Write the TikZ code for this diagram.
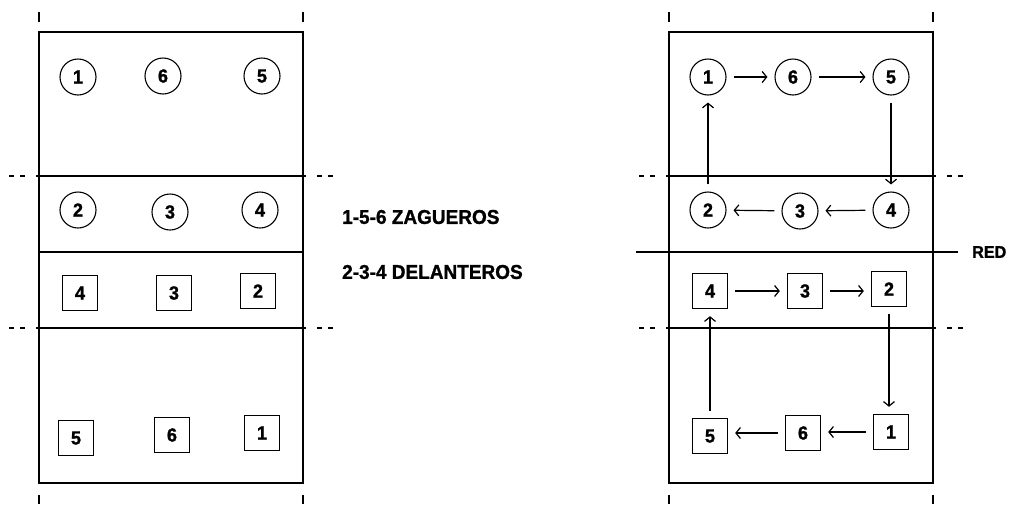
\documentclass[tikz,border=0pt]{standalone}
\usepackage{fontspec}
\usetikzlibrary{arrows.meta}
\newfontfamily\lblfont[FakeStretch=0.95, BoldFeatures={FakeBold=1.2}]{Liberation Sans}
\begin{document}
\begin{tikzpicture}[x=1pt,y=-1pt,
  court/.style={line width=1.5pt},
  ext/.style={line width=1.5pt, dash pattern=on 5pt off 6pt},
  numfont/.style={font=\lblfont\bfseries\fontsize{19}{19}\selectfont},
  player/.style={circle, draw, line width=1.1pt, minimum size=36pt, inner sep=0pt, numfont},
  sq/.style={rectangle, draw, line width=1.3pt, minimum size=35pt, inner sep=0pt, numfont},
  rot/.style={line width=1.2pt, -{Straight Barb[length=4.5pt,width=11pt]}, shorten <=7pt, shorten >=7pt},
  lbl/.style={anchor=west, inner sep=0pt, font=\lblfont\bfseries\fontsize{20}{20}\selectfont}
]
\useasboundingbox (0,0) rectangle (1011,504);

% the two courts: outline, side ticks, attack lines with dashed extensions
\foreach \ox in {0,630} {
  \begin{scope}[xshift=\ox pt]
    \draw[court] (39,32) rectangle (303,483);
    \draw[court] (39,12) -- (39,22) (303,12) -- (303,22);
    \draw[court] (39,495) -- (39,504) (303,495) -- (303,504);
    \foreach \yy in {176,328} {
      \draw[court] (36,\yy) -- (306,\yy);
      \draw[ext] (9,\yy) -- (26,\yy);
      \draw[ext] (317,\yy) -- (334,\yy);
    }
  \end{scope}
}
% net of the first court
\draw[court] (39,252) -- (303,252);

% first court: players in position
\node[player] (a1) at (78,77) {1};
\node[player] (a6) at (163,76) {6};
\node[player] (a5) at (262,76) {5};
\node[player] (a2) at (78,210) {2};
\node[player] (a3) at (170,212) {3};
\node[player] (a4) at (260,210) {4};
\node[sq] (b4) at (80,293) {4};
\node[sq] (b3) at (174,293) {3};
\node[sq] (b2) at (258,291) {2};
\node[sq] (b5) at (76,438) {5};
\node[sq] (b6) at (172,435) {6};
\node[sq] (b1) at (262,433) {1};

\node[lbl] (zag) at (342,217) {1-5-6 ZAGUEROS};
\node[lbl] (del) at (342,272) {2-3-4 DELANTEROS};

% second court: net and rotation
\coordinate (netL) at (636,252);
\coordinate (netR) at (958,252);
\draw[court] (netL) -- (netR);
\node[lbl, font=\lblfont\bfseries\fontsize{17}{17}\selectfont] (red) at (972,252) {RED};

\node[player] (c1) at (708,77) {1};
\node[player] (c6) at (793,77) {6};
\node[player] (c5) at (891,77) {5};
\node[player] (c2) at (708,210) {2};
\node[player] (c3) at (800,211) {3};
\node[player] (c4) at (891,210) {4};

\draw[rot] (c1) -- (c6);
\draw[rot] (c6) -- (c5);
\draw[rot] (c5) -- (c4);
\draw[rot] (c4) -- (c3);
\draw[rot] (c3) -- (c2);
\draw[rot] (c2) -- (c1);

\node[sq] (d4) at (710,291) {4};
\node[sq] (d3) at (805,291) {3};
\node[sq] (d2) at (889,289) {2};
\node[sq] (d5) at (710,436) {5};
\node[sq] (d6) at (803,433) {6};
\node[sq] (d1) at (891,432) {1};

\draw[rot] (d4) -- (d4 -| d3.west);
\draw[rot] (d3.east) -- (d3.east -| d2.west);
\draw[rot] (d2.south) -- (d2.south |- d1.north);
\draw[rot] (d1.west) -- (d1.west -| d6.east);
\draw[rot] (d6.west) -- (d6.west -| d5.east);
\draw[rot] (d5.north) -- (d5.north |- d4.south);
\end{tikzpicture}
\end{document}
